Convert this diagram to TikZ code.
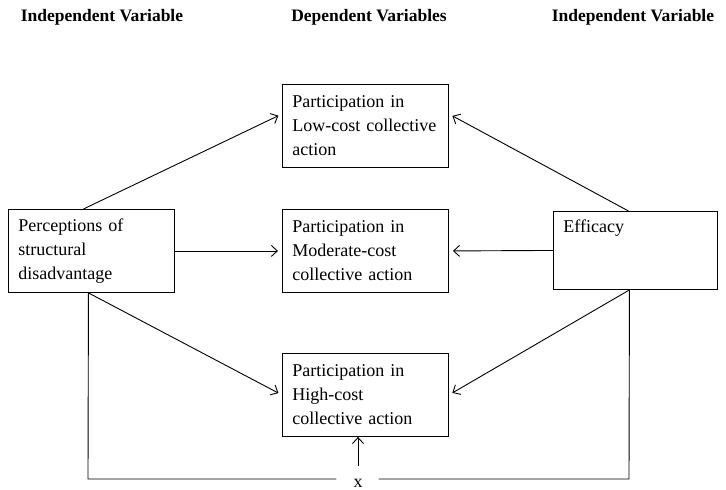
\documentclass[tikz,border=0pt]{standalone}
\usepackage{fontspec}
\setmainfont{Liberation Serif}
\usetikzlibrary{arrows.meta,positioning}
\newcommand{\boxfont}{\fontsize{18}{24}\selectfont\hyphenpenalty=10000\relax\exhyphenpenalty=10000\relax}

\begin{document}
\begin{tikzpicture}[x=1pt,y=-1pt,
        box/.style={draw, line width=0.9pt, align=left, anchor=north west, text width=146pt,
            inner xsep=10pt, minimum height=83pt, font=\boxfont},
        head/.style={font=\bfseries\fontsize{17.5}{20}\selectfont},
        wire/.style={line width=0.9pt},
        link/.style={wire, -{Straight Barb[length=6pt,width=11pt]}, shorten >=4pt}]
        \useasboundingbox (0,0) rectangle (726,490);
        
        \node[head] (ivleft) at (102,17) {Independent Variable};
        \node[head] (dv) at (369,17) {Dependent Variables};
        \node[head] (ivright) at (633,17) {Independent Variable};
        
        \node[box] (dis) at (8,209) {Perceptions of\\structural\\disadvantage};
        \node[box] (low) at (282,84) {Participation in\\Low-cost collective\\action};
        \node[box] (mod) at (282,209) {Participation in\\Moderate-cost\\collective action};
        \node[box] (high) at (282,353) {Participation in\\High-cost\\collective action};
        \node[box, text width=144pt, minimum height=78pt] (eff) at (553,211) {Efficacy\\~\\~};
        
        \draw[link] ([xshift=-8pt]dis.north) -- ([yshift=12pt]low.west);
        \draw[link] (dis.east) -- (mod.west);
        \draw[link] ([xshift=-3pt]dis.south) -- (high.west);
        
        \draw[link] ([xshift=-7pt]eff.north) -- ([yshift=12pt]low.east);
        \draw[link] (eff.west) -- (mod.east);
        \draw[link] ([xshift=-6pt]eff.south) -- (high.east);
        
        % interaction term
        \node[font=\fontsize{18}{24}\selectfont, inner sep=0pt] (x) at (358,483) {x};
        \coordinate (bl) at (88,479);
        \coordinate (br) at (629,479);
        \draw[wire, shorten >=17pt] ([xshift=-3pt]dis.south) -- (bl) -- (x.west |- bl);
        \draw[wire, shorten >=16pt] ([xshift=-6pt]eff.south) -- (br) -- (x.east |- br);
        \draw[link, shorten >=0pt, shorten <=13pt] (x.north) -- (x.north |- high.south);
        
\end{tikzpicture}
\end{document}
